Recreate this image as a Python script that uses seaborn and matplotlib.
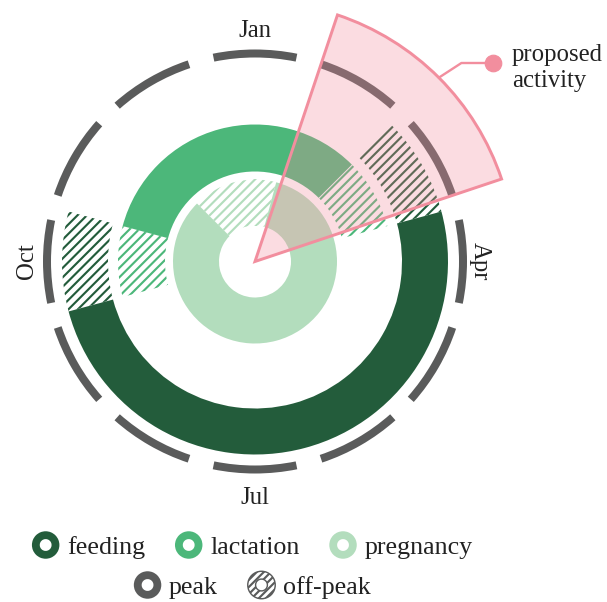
import numpy as np
import matplotlib
import matplotlib.pyplot as plt
import seaborn as sns
from matplotlib.patches import Wedge
from matplotlib.legend_handler import HandlerBase

# ---------------- data ----------------
months = ["Jan", "Feb", "Mar", "Apr", "May", "Jun",
          "Jul", "Aug", "Sep", "Oct", "Nov", "Dec"]
shown_months = ["Jan", "Apr", "Jul", "Oct"]

# per-month status of each ring: "peak", "off" or None
feeding = [None, None, "off", "peak", "peak", "peak",
           "peak", "peak", "peak", "off", None, None]
lactation = ["peak", "peak", "off", None, None, None,
             None, None, None, "off", "peak", "peak"]
pregnancy = ["off", "peak", "peak", "peak", "peak", "peak",
             "peak", "peak", "peak", "peak", "peak", "off"]
season_marks = months  # every month gets a dash on the outer ring
proposed = ["Feb", "Mar"]

ring_names = ["feeding", "lactation", "pregnancy"]
palette = sns.color_palette(["#235c3b", "#4cb77a", "#b3ddbd"])
gray = "#5a5b5b"
pink = "#f28e9e"
text_col = "#222222"

# ---------------- style ----------------
sns.set_theme(style="white")
plt.rcParams['font.family'] = ['Liberation Serif', 'DejaVu Serif']
plt.rcParams['hatch.linewidth'] = 1.8

DPI = 85
W, H = 607, 602
fig = plt.figure(figsize=(W / DPI, H / DPI), dpi=DPI)

cx, cy, R = 255, 261.5, 300   # centre in px (from top), radial extent
ax = fig.add_axes([(cx - R) / W, (H - cy - R) / H, 2 * R / W, 2 * R / H],
                  projection='polar')
ax.set_ylim(0, R)
ax.set_theta_zero_location('N')
ax.set_theta_direction(-1)
ax.axis('off')

step = 2 * np.pi / 12
theta = np.arange(12) * step


def runs(states):
    """consecutive months (wrapping round the year) with the same status"""
    n = len(states)
    start = next((i for i in range(n) if states[i] != states[i - 1]), 0)
    out, i = [], 0
    while i < n:
        s = states[(start + i) % n]
        j = i
        while j + 1 < n and states[(start + j + 1) % n] == s:
            j += 1
        out.append((start + i, j - i + 1, s))
        i = j + 1
    return out


def draw_ring(states, r0, r1, color):
    for first, length, s in runs(states):
        if s is None:
            continue
        t = (first + (length - 1) / 2) * step
        if s == "peak":
            ax.bar(t, r1 - r0, width=length * step, bottom=r0, color=color,
                   linewidth=0, zorder=2)
        else:
            ax.bar(t, r1 - r0, width=length * step, bottom=r0, color='white',
                   edgecolor=color, hatch='///', linewidth=0, zorder=1)


draw_ring(feeding, 147, 193, palette[0])
draw_ring(lactation, 90, 137, palette[1])
draw_ring(pregnancy, 36, 82, palette[2])

# outer month dashes
gap = np.radians(3.5)
idx = [months.index(m) for m in season_marks]
ax.bar(theta[idx], 8, width=step - 2 * gap, bottom=204, color=gray,
       linewidth=0, zorder=2)

# month labels (rotation, radius)
label_pos = {"Jan": (0, 231), "Apr": (-90, 225), "Jul": (0, 236), "Oct": (90, 228)}
for m in shown_months:
    rot, r_lab = label_pos[m]
    ax.text(theta[months.index(m)], r_lab, m, ha='center', va='center',
            rotation=rot, fontsize=21, color=text_col)

# proposed activity wedge
a0 = theta[months.index(proposed[0])] - step / 2 + gap
a1 = theta[months.index(proposed[-1])] + step / 2 - gap
r_w = 260
ax.bar((a0 + a1) / 2, r_w, width=a1 - a0, bottom=0,
       facecolor=matplotlib.colors.to_rgba(pink, 0.3), edgecolor=pink,
       linewidth=2.5, zorder=5)

dot = (493 / W, 1 - 63 / H)
ax.annotate("", xy=((a0 + a1) / 2, r_w), xycoords='data',
            xytext=dot, textcoords='figure fraction',
            arrowprops=dict(arrowstyle='-', color=pink, lw=2, shrinkA=0,
                            shrinkB=0,
                            connectionstyle='angle,angleA=0,angleB=33,rad=0'),
            zorder=6)
ax.plot([dot[0]], [dot[1]], 'o', color=pink, ms=14, transform=fig.transFigure,
        clip_on=False, zorder=7)
fig.text(512 / W, 1 - 68 / H, "proposed\nactivity", ha='left', va='center',
         fontsize=21, color=text_col, linespacing=1.25)


# ---------------- legend ----------------
class HandlerRing(HandlerBase):
    def create_artists(self, legend, orig_handle, xdescent, ydescent,
                       width, height, fontsize, trans):
        r = min(width, height) / 2
        ring = Wedge((width / 2 - xdescent, height / 2 - ydescent), r, 0, 360,
                     width=r * 0.57)
        ring.update_from(orig_handle)
        ring.set_transform(trans)
        return [ring]


ring_handles = [Wedge((0, 0), 1, 0, 360, facecolor=c, edgecolor=c, linewidth=0)
                for c in palette]
kind_handles = [Wedge((0, 0), 1, 0, 360, facecolor=gray, edgecolor=gray, linewidth=0),
                Wedge((0, 0), 1, 0, 360, facecolor='white', edgecolor=gray,
                      hatch='////', linewidth=1.2)]

leg_kw = dict(handler_map={Wedge: HandlerRing()}, loc='center', frameon=False,
              fontsize=22, handlelength=1.25, handleheight=1.25,
              handletextpad=0.2, columnspacing=1.05, labelcolor=text_col,
              borderpad=0, borderaxespad=0)
fig.legend(ring_handles, ring_names, ncol=3,
           bbox_to_anchor=(251 / W, 1 - 545 / H), **leg_kw)
fig.legend(kind_handles, ["peak", "off-peak"], ncol=2,
           bbox_to_anchor=(251 / W, 1 - 585 / H), **leg_kw)

fig.savefig("out.png", dpi=DPI)
